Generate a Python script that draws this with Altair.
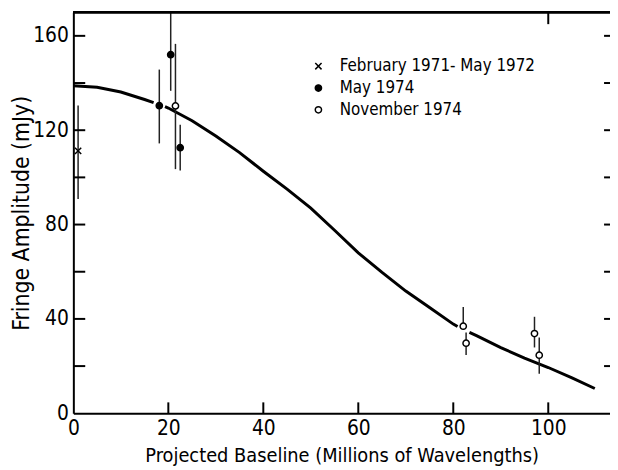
import altair as alt
import pandas as pd

# ---------------- data ----------------
series_names = ["February 1971- May 1972", "May 1974", "November 1974"]

feb_x = [1.0]
feb_y = [111.2]
feb_lo = [90.8]
feb_hi = [130.5]

may_x = [18.1, 20.5, 22.5]
may_y = [130.4, 152.0, 112.6]
may_lo = [114.4, 136.7, 102.9]
may_hi = [145.7, 170.0, 122.3]

nov_x = [21.5, 82.1, 82.7, 97.1, 98.1]
nov_y = [130.3, 36.9, 29.7, 33.8, 24.6]
nov_lo = [103.5, 35.6, 24.7, 27.9, 16.7]
nov_hi = [156.6, 45.1, 34.2, 40.9, 32.1]

curve_x = [0, 5, 10, 15, 16.9,
           19.3, 20, 25, 30, 35, 40, 45, 50, 55, 60, 65, 70, 75, 80, 80.9,
           83.4, 85, 90, 95, 100, 105, 109.8]
curve_y = [138.8, 138.2, 136.2, 133.0, 131.7,
           130.0, 129.4, 124.0, 117.5, 110.5, 102.6, 95.0, 87.0, 77.6, 68.0, 59.7, 51.8, 44.8, 37.8, 36.8,
           34.3, 32.8, 27.8, 23.4, 19.4, 15.0, 10.5]
curve_seg = [1] * 5 + [2] * 15 + [3] * 7

x_label_values = [0, 20, 40, 60, 80, 100]
y_label_values = [0, 40, 80, 120, 160]
bottom_ticks = [20, 40, 60, 80, 100]
left_ticks = [20, 40, 60, 80, 100, 120, 140, 160]
right_ticks = [20, 40, 60, 80, 100, 120, 140, 160]
top_ticks = [100]

# ---------------- tables ----------------
rows = []
for name, xs_, ys_, lo_, hi_ in [
    (series_names[0], feb_x, feb_y, feb_lo, feb_hi),
    (series_names[1], may_x, may_y, may_lo, may_hi),
    (series_names[2], nov_x, nov_y, nov_lo, nov_hi),
]:
    for a, b, c, d in zip(xs_, ys_, lo_, hi_):
        rows.append({"series": name, "x": a, "y": b, "lo": c, "hi": d})
pts = pd.DataFrame(rows)
curve_df = pd.DataFrame({"x": curve_x, "y": curve_y, "seg": curve_seg})

FONT = "Liberation Sans Narrow, DejaVu Sans Condensed, Liberation Sans, sans-serif"
W, H = 542, 405
XT = "Projected Baseline (Millions of Wavelengths)"
YT = "Fringe Amplitude (mJy)"

xs = alt.Scale(domain=[0, 113], nice=False, zero=False)
ys = alt.Scale(domain=[0, 170], nice=False, zero=False)

xaxis = alt.Axis(values=x_label_values, ticks=False, tickSize=0, grid=False,
                 domainColor="black", domainWidth=2,
                 labelFont=FONT, labelFontSize=21, labelColor="black",
                 labelPadding=4, labelFlush=False,
                 titleFont=FONT, titleFontSize=20, titleFontWeight="normal",
                 titleColor="black", titlePadding=8)
yaxis = alt.Axis(values=y_label_values, ticks=False, tickSize=0, grid=False,
                 domainColor="black", domainWidth=2,
                 labelFont=FONT, labelFontSize=21, labelColor="black",
                 labelPadding=5, labelFlush=False,
                 titleFont=FONT, titleFontSize=23, titleFontWeight="normal",
                 titleColor="black", titleX=-45, titleY=H / 2, titleAngle=270,
                 titleAlign="center", titleBaseline="alphabetic")


def X(field="x"):
    return alt.X(f"{field}:Q", scale=xs, axis=xaxis, title=XT)


def Y(field="y"):
    return alt.Y(f"{field}:Q", scale=ys, axis=yaxis, title=YT)


curve = alt.Chart(curve_df).mark_line(color="black", strokeWidth=3, strokeCap="butt").encode(
    x=X(), y=Y(), detail="seg:N", order="x:Q")

errbars = alt.Chart(pts).mark_rule(color="#222", strokeWidth=1.5).encode(
    x=X(), y=Y("lo"), y2="hi:Q")

cross_path = "M-1,-1L1,1M1,-1L-1,1"
legend = alt.Legend(orient="none", legendX=239, legendY=46, padding=0,
                    labelFont=FONT, labelFontSize=17, labelColor="black",
                    labelLimit=0,
                    symbolStrokeWidth=1.5,
                    symbolSize=40, rowPadding=4, labelOffset=13)
points = alt.Chart(pts).mark_point(size=40, strokeWidth=1.5, opacity=1).encode(
    x=X(), y=Y(),
    shape=alt.Shape("series:N", title=None,
                    scale=alt.Scale(domain=series_names, range=[cross_path, "circle", "circle"]),
                    legend=legend),
    fill=alt.Fill("series:N", title=None,
                  scale=alt.Scale(domain=series_names, range=["black", "black", "white"]),
                  legend=legend),
    stroke=alt.Stroke("series:N", title=None,
                      scale=alt.Scale(domain=series_names, range=["black", "black", "black"]),
                      legend=legend),
)

tb = pd.DataFrame({"x": bottom_ticks})
tl = pd.DataFrame({"y": left_ticks})
tr = pd.DataFrame({"y": right_ticks})
tt = pd.DataFrame({"x": top_ticks})

bticks = alt.Chart(tb).mark_rule(color="black", strokeWidth=2).encode(
    x=X(), y=alt.value(H), y2=alt.value(H - 11))
tticks = alt.Chart(tt).mark_rule(color="black", strokeWidth=2).encode(
    x=X(), y=alt.value(0), y2=alt.value(12))
lticks = alt.Chart(tl).mark_rule(color="black", strokeWidth=2).encode(
    y=Y(), x=alt.value(0), x2=alt.value(12))
rticks = alt.Chart(tr).mark_rule(color="black", strokeWidth=2).encode(
    y=Y(), x=alt.value(W - 6), x2=alt.value(W))
top_border = alt.Chart(tb).mark_rule(color="black", strokeWidth=2).encode(
    x=alt.value(0), x2=alt.value(W), y=alt.value(0))

chart = alt.layer(curve, errbars, points, bticks, tticks, lticks, rticks, top_border).properties(
    width=W, height=H,
    autosize=alt.AutoSizeParams(type="none"),
    padding={"left": 66, "top": 2, "right": 0, "bottom": 55},
    background="white",
).configure_view(strokeWidth=0)

chart.save("out.html", embed_options={"renderer": "svg", "actions": False})
